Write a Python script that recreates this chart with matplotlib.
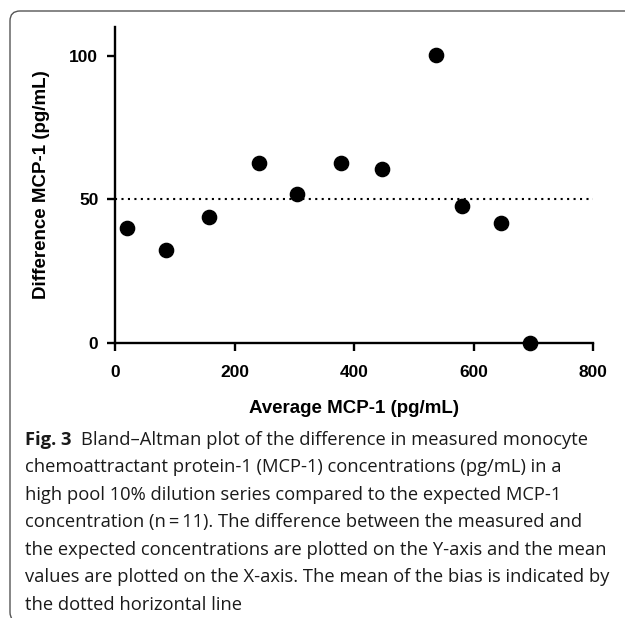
import matplotlib
matplotlib.use("Agg")
import matplotlib.pyplot as plt
from matplotlib.patches import FancyBboxPatch

# Data
avg_mcp1 = [20, 85, 158, 241, 304, 379, 447, 537, 581, 646, 695]
diff_mcp1 = [40.0, 32.3, 44.0, 62.5, 52.0, 62.5, 60.7, 100.3, 47.7, 41.8, 0.0]
mean_bias = 50.0
x_ticks = [0, 200, 400, 600, 800]
y_ticks = [0, 50, 100]
x_label = "Average MCP-1 (pg/mL)"
y_label = "Difference MCP-1 (pg/mL)"
caption_bold = "Fig. 3"
caption_lines = [
    "Bland\u2013Altman plot of the difference in measured monocyte",
    "chemoattractant protein-1 (MCP-1) concentrations (pg/mL) in a",
    "high pool 10% dilution series compared to the expected MCP-1",
    "concentration (n\u2009=\u200911). The difference between the measured and",
    "the expected concentrations are plotted on the Y-axis and the mean",
    "values are plotted on the X-axis. The mean of the bias is indicated by",
    "the dotted horizontal line",
]

W, H = 625, 618
fig = plt.figure(figsize=(W / 100, H / 100), dpi=100)

# rounded frame
frame = FancyBboxPatch((10 / W, (H - 622) / H), 640 / W, 611 / H,
                       boxstyle="round,pad=0,rounding_size=0.016",
                       transform=fig.transFigure, fill=False,
                       edgecolor="#555555", linewidth=1.0, clip_on=False)
fig.patches.append(frame)

ax = fig.add_axes([115 / W, 1 - 343 / H, (593 - 115) / W, (343 - 27) / H])
ax.set_xlim(0, 800)
ax.set_ylim(0, 110)
for s in ["top", "right"]:
    ax.spines[s].set_visible(False)
for s in ["left", "bottom"]:
    ax.spines[s].set_linewidth(1.7)
    ax.spines[s].set_color("black")

ax.hlines(mean_bias, 0, 800, colors="black", linewidth=1.5,
          linestyles=[(0, (1, 2.1))])
ax.scatter(avg_mcp1, diff_mcp1, s=105, color="black", zorder=5, clip_on=False)

ax.set_xticks(x_ticks)
ax.set_yticks(y_ticks)
tick_font = dict(family="Liberation Sans", weight="bold", size=12.5)
ax.set_xticklabels([str(v) for v in x_ticks], **tick_font)
ax.set_yticklabels([str(v) for v in y_ticks], **tick_font)
ax.tick_params(axis="both", length=6, width=1.7, color="black")
ax.tick_params(axis="x", pad=10)
ax.tick_params(axis="y", pad=6)

label_font = dict(family="Liberation Sans", weight="bold", size=13.5)
ax.set_xlabel(x_label, labelpad=14, **label_font)
ax.set_ylabel(y_label, labelpad=14, **label_font)

# caption
cap_font = dict(family="Open Sans", size=13.2, color="#1a1a1a")
x0 = 25 / W
base0 = 445
step = 27.5
t = fig.text(x0, 1 - base0 / H, caption_bold + "  ", fontweight="bold",
             va="baseline", ha="left", **cap_font)
fig.canvas.draw()
bb = t.get_window_extent()
fig.text(bb.x1 / W, 1 - base0 / H, caption_lines[0], va="baseline", ha="left", **cap_font)
for i, line in enumerate(caption_lines[1:], start=1):
    fig.text(x0, 1 - (base0 + i * step) / H, line, va="baseline", ha="left", **cap_font)

fig.savefig("out.png", dpi=100)
